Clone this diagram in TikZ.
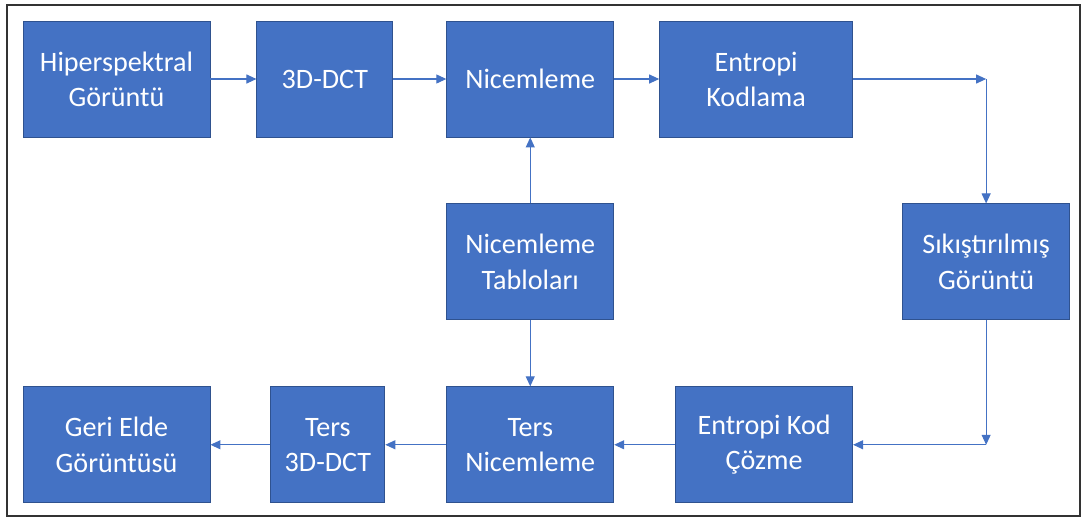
\documentclass[tikz,border=0pt]{standalone}
\usepackage{fontspec}
\setmainfont{Carlito}
\usepackage{xcolor}
\usepackage{tikz}
\usetikzlibrary{arrows.meta,positioning}

\definecolor{ofisMavi}{HTML}{4472C4}
\definecolor{ofisKenar}{HTML}{2F528F}

\begin{document}
\begin{tikzpicture}[
      blok/.style={draw=ofisKenar, line width=0.5pt, fill=ofisMavi, text=white, align=center,
                   font=\fontsize{16}{20}\selectfont, inner sep=0pt, minimum height=2.32cm},
      ok/.style={-{Triangle[length=2mm, width=1.8mm]}, ofisMavi, line width=0.6pt}]
    \useasboundingbox (0,0) rectangle (21.68,-10.38);
    \draw[black!80, line width=1.1pt] (0.14,-0.1) rectangle (21.6,-10.32);
    % ust sira
    \node[blok, minimum width=3.74cm] (hs) at (2.33,-1.58) {Hiperspektral\\Görüntü};
    \node[blok, minimum width=2.72cm, right=0.92cm of hs] (dct) {3D-DCT};
    \node[blok, minimum width=3.34cm, right=1.06cm of dct] (nic) {Nicemleme};
    \node[blok, minimum width=3.86cm, right=0.9cm of nic] (ent) {Entropi\\Kodlama};
    % orta sira
    \node[blok, minimum width=3.34cm, below=1.32cm of nic] (tab) {Nicemleme\\Tabloları};
    \node[blok, minimum width=3.34cm, right=5.76cm of tab] (sik) {Sıkıştırılmış\\Görüntü};
    % alt sira
    \node[blok, minimum width=3.34cm, below=1.32cm of tab] (tnic) {Ters\\Nicemleme};
    \node[blok, minimum width=3.54cm, right=1.22cm of tnic] (ekc) {Entropi Kod\\Çözme};
    \node[blok, minimum width=2.28cm, left=1.22cm of tnic] (tdct) {Ters\\3D-DCT};
    \node[blok, minimum width=3.74cm, left=1.2cm of tdct] (geri) {Geri Elde\\Görüntüsü};
    \coordinate (k1) at (sik.north |- ent.east);
    \coordinate (k2) at (sik.south |- ekc.east);
    \draw[ok] (hs) -- (dct); \draw[ok] (dct) -- (nic); \draw[ok] (nic) -- (ent);
    \draw[ok] (ent) -- (k1); \draw[ok] (k1) -- (sik);
    \draw[ok] (sik) -- (k2); \draw[ok] (k2) -- (ekc);
    \draw[ok] (ekc) -- (tnic); \draw[ok] (tnic) -- (tdct); \draw[ok] (tdct) -- (geri);
    \draw[ok] (tab) -- (nic); \draw[ok] (tab) -- (tnic);
  \end{tikzpicture}
\end{document}
